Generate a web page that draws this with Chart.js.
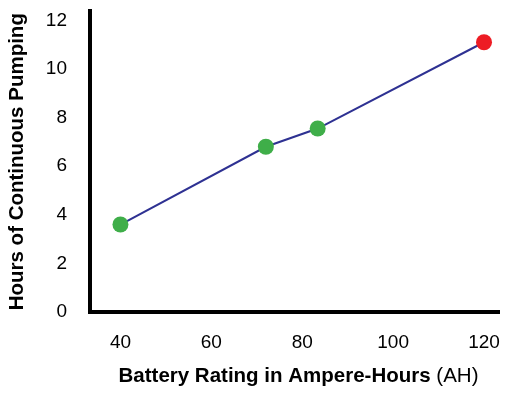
<!DOCTYPE html>
<html>
<head>
<meta charset="utf-8">
<script src="https://cdn.jsdelivr.net/npm/chart.js@4"></script>
<style>
  html, body { margin: 0; padding: 0; background: #fff; }
  canvas { display: block; }
</style>
</head>
<body>
<canvas id="pumpChart" width="512" height="398"></canvas>
<script>
// battery rating (AH) vs hours of pumping
var batteryAH = [40, 72, 83.4, 120];
var pumpHours = [3.6, 6.8, 7.55, 11.1];
var pointColors = ['#3fae49', '#3fae49', '#3fae49', '#ed1c24'];
var xTicks = [40, 60, 80, 100, 120];
var yTicks = [0, 2, 4, 6, 8, 10, 12];

var fontFamily = '"Liberation Sans", Arial, Helvetica, sans-serif';

var points = batteryAH.map(function (x, i) {
    return { x: x, y: pumpHours[i] };
});

function keepTicks(list) {
    return function (scale) {
        scale.ticks = list.map(function (v) { return { value: v }; });
    };
}

// x title has a bold part and a plain part
var xTitlePlugin = {
    id: 'xTitle',
    afterDraw: function (chart) {
        var ctx = chart.ctx;
        var area = chart.chartArea;
        var boldText = 'Battery Rating in Ampere-Hours ';
        var plainText = '(AH)';
        ctx.save();
        ctx.fillStyle = '#000';
        ctx.textBaseline = 'alphabetic';
        ctx.font = 'bold 20.5px ' + fontFamily;
        var w1 = ctx.measureText(boldText).width;
        ctx.font = '20.5px ' + fontFamily;
        var w2 = ctx.measureText(plainText).width;
        var x0 = (area.left + area.right) / 2 + 4 - (w1 + w2) / 2;
        var y0 = chart.height - 16;
        ctx.font = 'bold 20.5px ' + fontFamily;
        ctx.fillText(boldText, x0, y0);
        ctx.font = '20.5px ' + fontFamily;
        ctx.fillText(plainText, x0 + w1, y0);
        ctx.restore();
    }
};

var ctx = document.getElementById('pumpChart');
var myChart = new Chart(ctx, {
    type: 'line',
    data: {
        datasets: [{
            data: points,
            borderColor: '#2e3192',
            borderWidth: 2,
            pointRadius: 8,
            pointHoverRadius: 8,
            pointBorderWidth: 0,
            pointBackgroundColor: pointColors,
            pointBorderColor: pointColors,
            tension: 0,
            clip: false
        }]
    },
    options: {
        responsive: false,
        animation: false,
        events: [],
        layout: {
            padding: { left: 0, right: 13, top: 9, bottom: 0 }
        },
        plugins: {
            legend: { display: false },
            tooltip: { enabled: false }
        },
        scales: {
            x: {
                type: 'linear',
                min: 33.3,
                max: 123.3,
                afterBuildTicks: keepTicks(xTicks),
                afterFit: function (scale) { scale.height = 86; },
                grid: {
                    display: true,
                    drawOnChartArea: false,
                    drawTicks: true,
                    tickLength: 19,
                    color: 'rgba(0,0,0,0)'
                },
                border: { display: true, color: '#000', width: 4 },
                ticks: {
                    padding: 0,
                    color: '#000',
                    font: { family: fontFamily, size: 19 }
                }
            },
            y: {
                type: 'linear',
                min: 0,
                max: 12.37,
                afterBuildTicks: keepTicks(yTicks),
                afterFit: function (scale) { scale.width = 90; },
                grid: {
                    display: true,
                    drawOnChartArea: false,
                    drawTicks: true,
                    tickLength: 23,
                    color: 'rgba(0,0,0,0)'
                },
                border: { display: true, color: '#000', width: 4 },
                ticks: {
                    padding: 0,
                    color: '#000',
                    font: { family: fontFamily, size: 19 }
                },
                title: {
                    display: true,
                    text: 'Hours of Continuous Pumping',
                    color: '#000',
                    padding: 5,
                    font: { family: fontFamily, size: 20.5, weight: 'bold' }
                }
            }
        }
    },
    plugins: [xTitlePlugin]
});
</script>
</body>
</html>
